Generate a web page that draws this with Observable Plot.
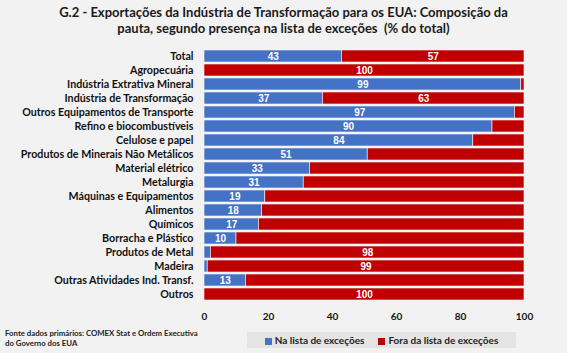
<!DOCTYPE html>
<html>
<head>
<meta charset="utf-8">
<script src="https://cdn.jsdelivr.net/npm/d3@7"></script>
<script src="https://cdn.jsdelivr.net/npm/@observablehq/plot@0.6"></script>
<style>
  html, body { margin: 0; padding: 0; background: #f2f2f2; }
  #wrap { position: relative; width: 567px; height: 353px; background: #f2f2f2; font-family: Lato, "Open Sans", sans-serif; overflow: hidden; }
  #title { position: absolute; top: 4px; left: 0; width: 567px; text-align: center; font-weight: bold; font-size: 13px; line-height: 16px; color: #1a1a1a; }
  #foot { position: absolute; left: 5px; top: 329px; font-size: 7.8px; line-height: 9.5px; font-weight: bold; color: #222; }
  #legend { position: absolute; left: 247px; top: 332px; width: 269px; height: 16px; background: #e4e4e4; font-size: 10px; font-weight: bold; color: #222; display: flex; align-items: center; justify-content: center; gap: 14px; }
  #legend span.sw { display: inline-block; width: 7px; height: 7px; margin-right: 3px; vertical-align: -0.5px; }
  #chart { position: absolute; left: 0; top: 0; }
</style>
</head>
<body>
<div id="wrap">
  <div id="chart"></div>
  <div id="title">G.2 - Exportações da Indústria de Transformação para os EUA: Composição da<br>pauta, segundo presença na lista de exceções&nbsp; (% do total)</div>
  <div id="legend"></div>
  <div id="foot">Fonte dados primários: COMEX Stat e Ordem Executiva<br>do Governo dos EUA</div>
</div>
<script>
const categories = [
  "Total", "Agropecuária", "Indústria Extrativa Mineral", "Indústria de Transformação",
  "Outros Equipamentos de Transporte", "Refino e biocombustíveis", "Celulose e papel",
  "Produtos de Minerais Não Metálicos", "Material elétrico", "Metalurgia",
  "Máquinas e Equipamentos", "Alimentos", "Químicos", "Borracha e Plástico",
  "Produtos de Metal", "Madeira", "Outras Atividades Ind. Transf.", "Outros"
];
const series = ["Na lista de exceções", "Fora da lista de exceções"];
const naLista   = [43, 0, 99, 37, 97, 90, 84, 51, 33, 31, 19, 18, 17, 10, 2, 1, 13, 0];
const foraLista = [57, 100, 1, 63, 3, 10, 16, 49, 67, 69, 81, 82, 83, 90, 98, 99, 87, 100];
// data labels displayed in the original (null = no label)
const naLabels   = [43, null, 99, 37, 97, 90, 84, 51, 33, 31, 19, 18, 17, 10, null, null, 13, null];
const foraLabels = [57, 100, null, 63, null, null, null, null, null, null, null, null, null, null, 98, 99, null, 100];
const xTicks = [0, 20, 40, 60, 80, 100];
const colors = ["#4472c4", "#c00000"];

const rows = [];
categories.forEach((c, i) => {
  rows.push({cat: c, serie: series[0], value: naLista[i], label: naLabels[i]});
  rows.push({cat: c, serie: series[1], value: foraLista[i], label: foraLabels[i]});
});

const chart = Plot.plot({
  width: 567,
  height: 353,
  marginTop: 48,
  marginBottom: 51,
  marginLeft: 204,
  marginRight: 43,
  style: {background: "transparent", fontFamily: "Lato, 'Open Sans', sans-serif"},
  x: {domain: [0, 100], ticks: xTicks, label: null, tickSize: 0, tickPadding: 10},
  y: {domain: categories, label: null, tickSize: 0, tickPadding: 11, padding: 0.12},
  color: {domain: series, range: colors},
  marks: [
    Plot.barX(rows, Plot.stackX({x: "value", y: "cat", fill: "serie", z: "serie", stroke: "#f7f7f7", strokeWidth: 0.6})),
    Plot.text(rows, Plot.stackX({x: "value", y: "cat", z: "serie", text: d => d.label == null ? "" : String(d.label),
      fill: "white", fontWeight: "bold", fontSize: 10, fontFamily: "Liberation Sans, Arial, sans-serif"})),
    Plot.axisY({tickSize: 0, tickPadding: 11, fontSize: 10.7, fontWeight: "bold", fill: "#111", label: null}),
    Plot.axisX({ticks: xTicks, tickSize: 0, tickPadding: 10, fontSize: 10, fontWeight: "bold", fill: "#111", label: null})
  ]
});
document.getElementById("chart").appendChild(chart);

const legend = document.getElementById("legend");
series.forEach((s, i) => {
  const item = document.createElement("div");
  item.innerHTML = `<span class="sw" style="background:${colors[i]}"></span>${s}`;
  legend.appendChild(item);
});
</script>
</body>
</html>
